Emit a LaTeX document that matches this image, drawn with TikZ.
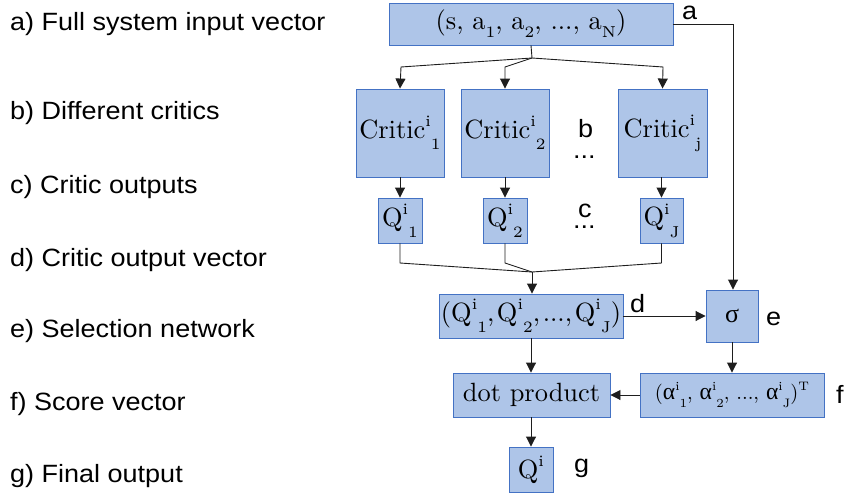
\documentclass[tikz,border=0pt]{standalone}
\usepackage{graphicx}
\usepackage{fontspec}
\newfontfamily\lab[FakeStretch=1.08]{Liberation Sans}
\newfontfamily\grk{Liberation Serif}
\usetikzlibrary{arrows.meta}
\definecolor{boxfill}{RGB}{174,197,232}
\definecolor{boxline}{RGB}{68,114,196}
\definecolor{wire}{RGB}{30,30,30}
\newcommand{\boxtxt}[2][2.64]{\scalebox{#1}{\fontsize{10}{12}\selectfont #2}}
\newcommand{\scr}[1]{{\fontsize{6}{6}\selectfont #1}}
\newcommand{\supsub}[2]{\raisebox{4.5pt}{\scr{#1}}\raisebox{-4.2pt}{\scr{#2}}}
\newcommand{\subonly}[1]{\raisebox{-3pt}{\scr{#1}}}
\newcommand{\suponly}[1]{\raisebox{4.5pt}{\scr{#1}}}
\newcommand{\alf}{{\grk\fontsize{11.5}{12}\selectfont α}}
\tikzset{
  bx/.style={draw=boxline, fill=boxfill, line width=0.9pt, inner sep=0pt},
  lbl/.style={anchor=base west, inner sep=0pt, font=\lab\fontsize{25}{27}\selectfont},
  tag/.style={anchor=base west, inner sep=0pt, font=\lab\fontsize{25}{27}\selectfont},
  dots/.style={tag, text height=3pt, text depth=0pt},
  wr/.style={draw=wire, line width=0.9pt},
  arr/.style={wr, -{Triangle[width=10pt,length=10pt]}},
}
\begin{document}
\begin{tikzpicture}[x=1pt,y=-1pt]
\useasboundingbox (0,0) rectangle (845,495);
% left labels
\node[lbl] (la) at (10,31) {a) Full system input vector};
\node[lbl] (lb) at (10,119) {b) Different critics};
\node[lbl] (lc) at (10,193) {c) Critic outputs};
\node[lbl] (ld) at (10,266) {d) Critic output vector};
\node[lbl] (le) at (10,337) {e) Selection network};
\node[lbl] (lf) at (10,410) {f) Score vector};
\node[lbl] (lg) at (10,482) {g) Final output};
% boxes
\node[bx, minimum width=284pt, minimum height=42pt] (top) at (531,24) {\boxtxt{(s, a\subonly{1}, a\subonly{2}, ..., a\subonly{N})}};
\node[bx, minimum width=88pt, minimum height=88pt] (c1) at (400,133) {\boxtxt{Critic\supsub{i}{1}}};
\node[bx, minimum width=88pt, minimum height=88pt] (c2) at (505,133) {\boxtxt{Critic\supsub{i}{2}}};
\node[bx, minimum width=89pt, minimum height=88pt] (c3) at (662.5,133) {\boxtxt{Critic\supsub{i}{j}}};
\node[bx, minimum width=44pt, minimum height=45pt] (q1) at (400,220.5) {\boxtxt{Q\supsub{i}{1}}};
\node[bx, minimum width=44pt, minimum height=45pt] (q2) at (505,220.5) {\boxtxt{Q\supsub{i}{2}}};
\node[bx, minimum width=43pt, minimum height=45pt] (q3) at (661.5,220.5) {\boxtxt{Q\supsub{i}{J}}};
\node[bx, minimum width=184pt, minimum height=44pt] (qv) at (531,316) {\boxtxt{(Q\supsub{i}{1},\hspace{1pt}Q\supsub{i}{2},\hspace{1pt}...,\hspace{1pt}Q\supsub{i}{J})}};
\node[bx, minimum width=52pt, minimum height=52pt] (sg) at (732,316) {\boxtxt[2.6]{\grk σ}};
\node[bx, minimum width=157pt, minimum height=44pt] (dp) at (531.5,395) {\boxtxt{dot product}};
\node[bx, minimum width=184pt, minimum height=44pt] (al) at (732,395) {\boxtxt[2.05]{(\alf\supsub{i}{1}, \alf\supsub{i}{2}, ..., \alf\supsub{i}{J})\suponly{T}}};
\node[bx, minimum width=44pt, minimum height=45pt] (fq) at (531,469.5) {\boxtxt{Q\suponly{i}}};
% tags
\node[tag] (ta) at (682,20) {a};
\node[tag] (tb) at (578,137) {b};
\node[dots] (tbd) at (573,158) {...};
\node[tag] (tc) at (578,217) {c};
\node[dots] (tcd) at (573,228) {...};
\node[tag] (td) at (630,312) {d};
\node[tag] (te) at (766,325) {e};
\node[tag] (tf) at (836,403) {f};
\node[tag] (tg) at (574,472) {g};
% connectors
\coordinate (split) at (532,58);
\draw[wr] (top.south) -- (split);
\draw[arr] (split) -- (401,67) -- (c1.north);
\draw[arr] (split) -- (505,67) -- (c2.north);
\draw[arr] (split) -- (663,67) -- (c3.north);
\draw[arr] (top.east) -- (733,24) -- (sg.north -| 733,0);
\draw[arr] (c1) -- (q1);
\draw[arr] (c2) -- (q2);
\draw[arr] (c3.south -| q3) -- (q3.north);
\coordinate (merge) at (532,272);
\draw[wr] (q1.south) -- (400,263) -- (merge);
\draw[wr] (q2.south) -- (505,263) -- (merge);
\draw[wr] (q3.south) -- (661.5,263) -- (merge);
\draw[arr] (merge) -- (qv.north -| merge);
\draw[arr] (qv.east) -- (sg.west);
\draw[arr] (sg.south) -- (al.north);
\draw[arr] (qv.south) -- (dp.north -| qv.south);
\draw[arr] (al.west) -- (dp.east);
\draw[arr] (dp.south -| fq) -- (fq.north);
\end{tikzpicture}
\end{document}
